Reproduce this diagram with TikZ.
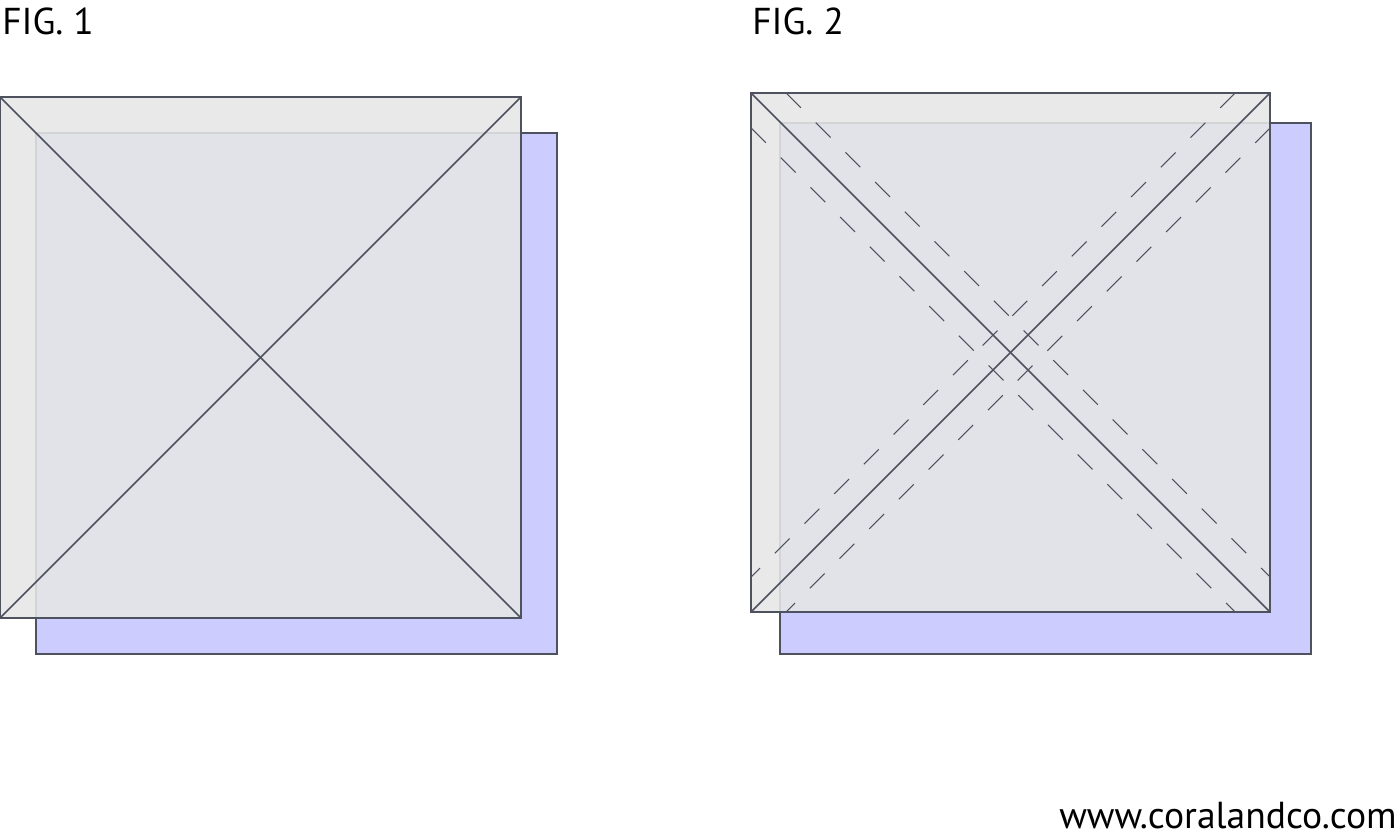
\documentclass[tikz,border=0pt]{standalone}
\usepackage{fontspec}
\setmainfont{PT Sans}
\definecolor{edgegray}{RGB}{77,82,94}
\definecolor{sheetgray}{RGB}{230,230,231}
\definecolor{backblue}{RGB}{204,204,255}

\tikzset{
  backsq/.style={draw=edgegray, fill=backblue, line width=0.9pt},
  frontsq/.style={draw=edgegray, fill=sheetgray, fill opacity=0.88, line width=0.9pt},
  cutline/.style={draw=edgegray, line width=0.9pt},
  seamline/.style={draw=edgegray, line width=0.6pt, dash pattern=on 0.42cm off 0.42cm},
  figlabel/.style={anchor=base west, inner sep=0pt, font=\fontsize{21.3}{26}\selectfont},
}

\begin{document}
\begin{tikzpicture}[x=0.02cm, y=-0.02cm]
\useasboundingbox (0,0) rectangle (1400,837);

% FIG. 1
\node[figlabel] (title1) at (2,35) {FIG. 1};
\draw[backsq] (36,133) rectangle (557,654);
\draw[frontsq] (0,97) rectangle (521,618);
\coordinate (a1) at (0,97);
\coordinate (b1) at (521,97);
\coordinate (c1) at (521,618);
\coordinate (d1) at (0,618);
\draw[cutline] (a1) -- (c1);
\draw[cutline] (d1) -- (b1);

% FIG. 2
\node[figlabel] (title2) at (752,35) {FIG. 2};
\draw[backsq] (780,123) rectangle (1311,654);
\draw[frontsq] (751,93) rectangle (1270,612);
\coordinate (a2) at (751,93);
\coordinate (b2) at (1270,93);
\coordinate (c2) at (1270,612);
\coordinate (d2) at (751,612);
\draw[cutline] (a2) -- (c2);
\draw[cutline] (d2) -- (b2);

% seam allowance
\draw[seamline] (786,93) -- (1270,577);
\draw[seamline] (751,128) -- (1235,612);
\draw[seamline] (1235,93) -- (751,577);
\draw[seamline] (1270,128) -- (786,612);

\node[anchor=base east, inner sep=0pt, font=\fontsize{21.4}{26}\selectfont] (site) at (1397,828) {www.coralandco.com};
\end{tikzpicture}
\end{document}
